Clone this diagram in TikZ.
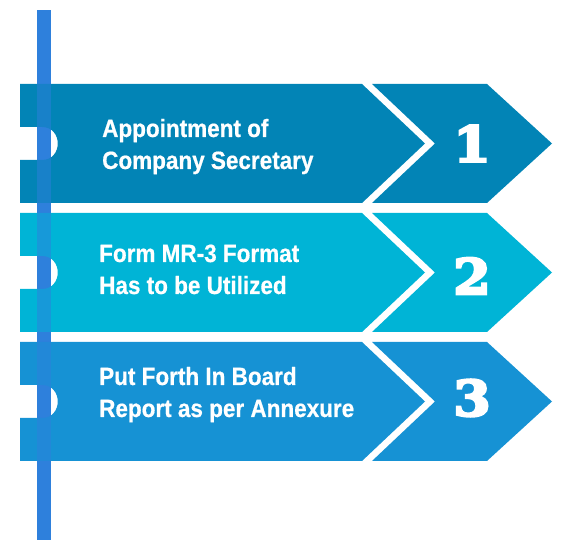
\documentclass[tikz,border=0pt]{standalone}
\usepackage{fontspec}
\setmainfont{Liberation Sans}
\newfontfamily\stepfont[FakeStretch=0.9, FakeBold=0.6]{Liberation Sans}
\newfontfamily\numfont[BoldFeatures={FakeBold=5}, FakeStretch=1.1]{DejaVu Serif}
\definecolor{barTeal}{RGB}{2,132,182}
\definecolor{barCyan}{RGB}{0,180,214}
\definecolor{barBlue}{RGB}{22,146,212}
\definecolor{poleBlue}{RGB}{46,128,220}
\tikzset{
    poleFill/.style={fill=poleBlue},
    poleOver/.style={fill=poleBlue, opacity=0.5},
    stepText/.style={anchor=base west, align=left, text=white, inner sep=0pt,
        font=\stepfont\bfseries\fontsize{25}{32}\selectfont},
    stepNum/.style={text=white, inner sep=0pt,
        font=\numfont\bfseries\fontsize{49}{49}\selectfont},
}

\begin{document}
\begin{tikzpicture}[x=1pt, y=-1pt]
    \useasboundingbox (0,0) rectangle (574,540);

    % POLE (behind)
    \fill[poleFill] (37,10) rectangle (51,540);

    % STEP 1
    \begin{scope}[shift={(0,84)}]
        \fill[barTeal] (20,0) -- (362,0) -- (425,59.5) -- (362,119) -- (20,119) -- (20,76)
            -- (42,76) .. controls (63,76) and (63,43) .. (42,43) -- (20,43) -- cycle;
        \fill[barTeal] (372,0) -- (487,0) -- (552,59.5) -- (487,119) -- (372,119) -- (435,59.5) -- cycle;
        \node[stepText] (text1) at (102,85) {Appointment of\\Company Secretary};
        \node[stepNum] (num1) at (472,59.5) {1};
    \end{scope}

    % STEP 2
    \begin{scope}[shift={(0,213)}]
        \fill[barCyan] (20,0) -- (362,0) -- (425,59.5) -- (362,119) -- (20,119) -- (20,76)
            -- (42,76) .. controls (63,76) and (63,43) .. (42,43) -- (20,43) -- cycle;
        \fill[barCyan] (372,0) -- (487,0) -- (552,59.5) -- (487,119) -- (372,119) -- (435,59.5) -- cycle;
        \node[stepText] (text2) at (99,81) {Form MR-3 Format\\Has to be Utilized};
        \node[stepNum] (num2) at (472,63) {2};
    \end{scope}

    % STEP 3
    \begin{scope}[shift={(0,342)}]
        \fill[barBlue] (20,0) -- (362,0) -- (425,59.5) -- (362,119) -- (20,119) -- (20,76)
            -- (42,76) .. controls (63,76) and (63,43) .. (42,43) -- (20,43) -- cycle;
        \fill[barBlue] (372,0) -- (487,0) -- (552,59.5) -- (487,119) -- (372,119) -- (435,59.5) -- cycle;
        \node[stepText] (text3) at (99,75) {Put Forth In Board\\Report as per Annexure};
        \node[stepNum] (num3) at (472,56) {3};
    \end{scope}

    % POLE (over the bars)
    \fill[poleOver] (37,10) rectangle (51,540);

\end{tikzpicture}
\end{document}
